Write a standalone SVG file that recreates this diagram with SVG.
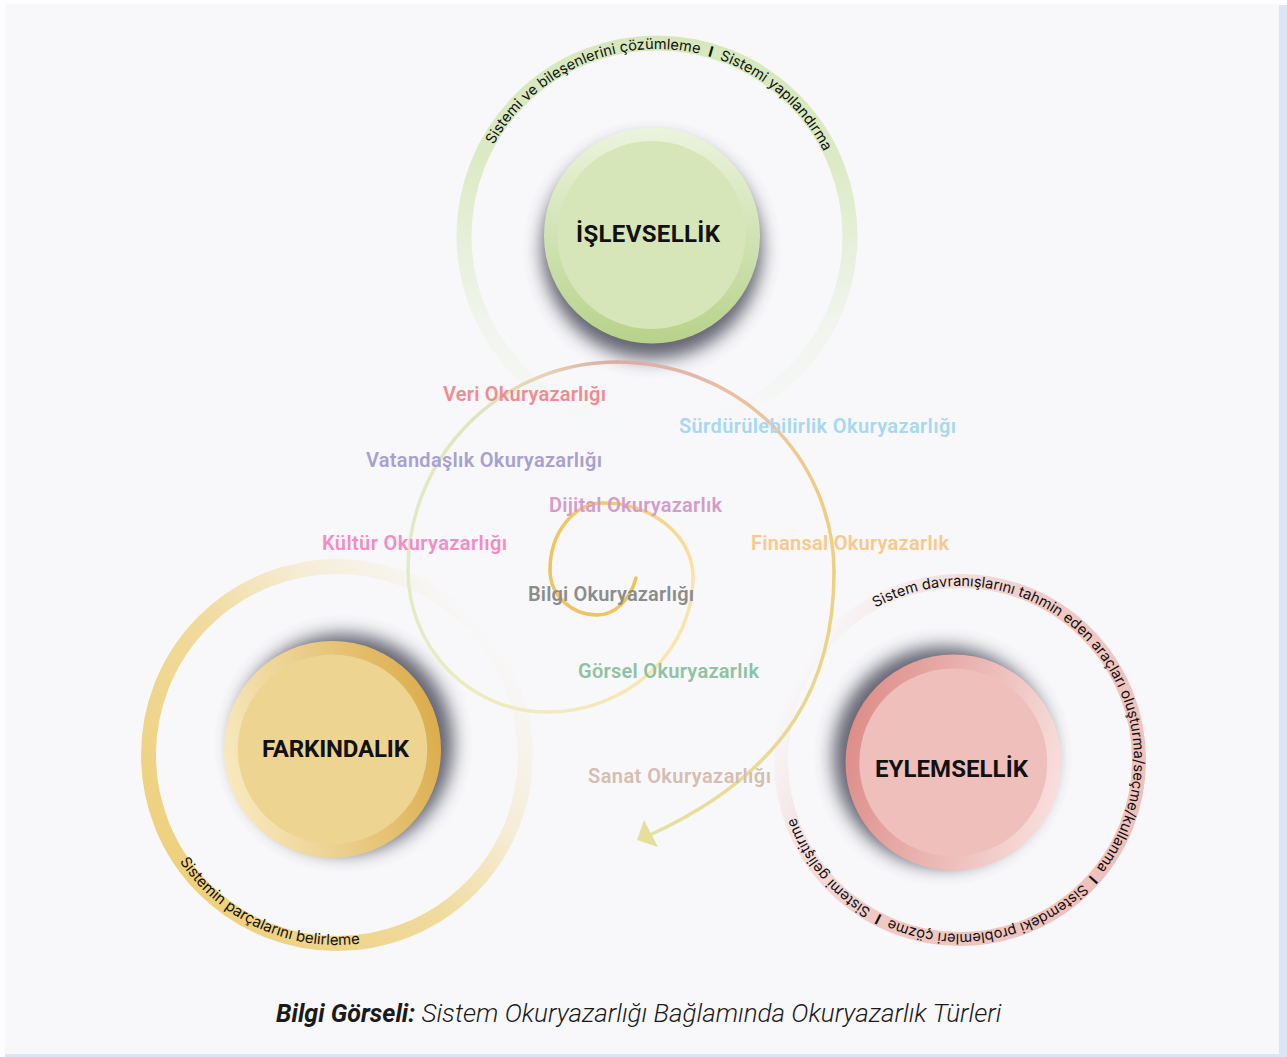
<svg xmlns="http://www.w3.org/2000/svg" width="1287" height="1057" viewBox="0 0 1287 1057">
<defs>
<style>
.lbl{font-family:Roboto,"Liberation Sans",sans-serif;font-weight:600;font-size:20px}
.title{font-family:Roboto,"Liberation Sans",sans-serif;font-weight:700;font-size:24px;fill:#111;text-anchor:middle}
.rt{font-family:Inter,"Liberation Sans",sans-serif;font-size:14.6px;fill:#111}
.sep{font-weight:700}
.sp{fill:none;stroke-width:3.5;stroke-linecap:round}
.ring{fill:none}
.shadow{fill:#4a4a5a;opacity:0.85;filter:url(#shadowBlur)}
.cap{font-family:Roboto,"Liberation Sans",sans-serif;font-size:25px;font-style:italic;fill:#1a1a1a}
</style>
<filter id="shadowBlur" x="-50%" y="-50%" width="200%" height="200%"><feGaussianBlur stdDeviation="9"/></filter>
<linearGradient id="rimTop" x1="0" y1="0" x2="0" y2="1"><stop offset="0" stop-color="#ebf4de"/><stop offset="1" stop-color="#b7d28a"/></linearGradient>
<linearGradient id="rimLeft" x1="0" y1="0.62" x2="1" y2="0.38"><stop offset="0" stop-color="#f8eac0"/><stop offset="1" stop-color="#dbac4a"/></linearGradient>
<linearGradient id="rimRight" x1="1" y1="0.62" x2="0" y2="0.38"><stop offset="0" stop-color="#f8e0dd"/><stop offset="1" stop-color="#dd8d88"/></linearGradient>
<linearGradient id="ringTopG" gradientUnits="userSpaceOnUse" x1="657" y1="36" x2="657" y2="436"><stop offset="0" stop-color="#d6e8bb"/><stop offset="0.3" stop-color="#d6e8bb" stop-opacity="0.85"/><stop offset="0.5" stop-color="#d6e8bb" stop-opacity="0.55"/><stop offset="0.72" stop-color="#d6e8bb" stop-opacity="0.2"/><stop offset="1" stop-color="#d6e8bb" stop-opacity="0"/></linearGradient>
<linearGradient id="ringLeftG" gradientUnits="userSpaceOnUse" x1="184" y1="877" x2="490" y2="633"><stop offset="0" stop-color="#eed17e"/><stop offset="0.45" stop-color="#eed17e" stop-opacity="0.75"/><stop offset="0.72" stop-color="#eed17e" stop-opacity="0.3"/><stop offset="1" stop-color="#eed17e" stop-opacity="0"/></linearGradient>
<linearGradient id="ringRightG" gradientUnits="userSpaceOnUse" x1="1124" y1="847" x2="796" y2="673"><stop offset="0" stop-color="#efc1bc"/><stop offset="0.5" stop-color="#efc1bc" stop-opacity="0.85"/><stop offset="0.75" stop-color="#efc1bc" stop-opacity="0.45"/><stop offset="1" stop-color="#efc1bc" stop-opacity="0"/></linearGradient>
<linearGradient id="g1" gradientUnits="userSpaceOnUse" x1="636" y1="578" x2="597" y2="615"><stop offset="0" stop-color="#efc25a"/><stop offset="1" stop-color="#efc35e"/></linearGradient>
<linearGradient id="g2" gradientUnits="userSpaceOnUse" x1="597" y1="615" x2="550" y2="570"><stop offset="0" stop-color="#efc35e"/><stop offset="1" stop-color="#eec462"/></linearGradient>
<linearGradient id="g3" gradientUnits="userSpaceOnUse" x1="550" y1="570" x2="603" y2="503"><stop offset="0" stop-color="#eec462"/><stop offset="1" stop-color="#f2ca6c"/></linearGradient>
<linearGradient id="g4" gradientUnits="userSpaceOnUse" x1="603" y1="503" x2="693" y2="577"><stop offset="0" stop-color="#f2ca6c"/><stop offset="1" stop-color="#fde2a6"/></linearGradient>
<linearGradient id="g5" gradientUnits="userSpaceOnUse" x1="693" y1="577" x2="547" y2="712"><stop offset="0" stop-color="#fde2a6"/><stop offset="1" stop-color="#f1ebbd"/></linearGradient>
<linearGradient id="g6" gradientUnits="userSpaceOnUse" x1="547" y1="712" x2="408" y2="570"><stop offset="0" stop-color="#f1ebbd"/><stop offset="1" stop-color="#e0ecc6"/></linearGradient>
<linearGradient id="g7" gradientUnits="userSpaceOnUse" x1="408" y1="570" x2="617" y2="362"><stop offset="0" stop-color="#e0ecc6"/><stop offset="0.55" stop-color="#dfe6bf"/><stop offset="0.8" stop-color="#e6d2b4"/><stop offset="1" stop-color="#d9aca4"/></linearGradient>
<linearGradient id="g8" gradientUnits="userSpaceOnUse" x1="617" y1="362" x2="834" y2="572"><stop offset="0" stop-color="#d9aca4"/><stop offset="0.35" stop-color="#e9c0a6"/><stop offset="0.7" stop-color="#efcb8c"/><stop offset="1" stop-color="#edd07e"/></linearGradient>
<linearGradient id="g9" gradientUnits="userSpaceOnUse" x1="834" y1="572" x2="652" y2="834"><stop offset="0" stop-color="#edd07e"/><stop offset="1" stop-color="#e6e0a2"/></linearGradient>
<path id="tpTop" d="M470,236 A187,187 0 1 1 844,236 A187,187 0 1 1 470,236"/>
<path id="tpLeft" d="M147,755 A190,190 0 1 0 527,755 A190,190 0 1 0 147,755"/>
<path id="tpRight" d="M786,760 A174,174 0 1 1 1134,760 A174,174 0 1 1 786,760"/>
</defs>

<rect width="1287" height="1057" fill="#fdfdfe"/>
<rect x="1279" y="5" width="8" height="1052" fill="#dce5f5"/>
<rect x="5" y="1054" width="1282" height="3" fill="#dce5f5"/>
<rect x="5" y="4" width="1274" height="1050" fill="#f8f8fa"/>

<g id="node-islevsellik">
<circle class="ring" cx="657" cy="236" r="193" stroke="url(#ringTopG)" stroke-width="15"/>
<text class="rt"><textPath href="#tpTop" startOffset="95">Sistemi ve bileşenlerini çözümleme&#160;&#160;<tspan class="sep">I</tspan>&#160;&#160;Sistemi yapılandırma</textPath></text>
<circle class="shadow" cx="652" cy="249" r="110"/>
<circle cx="652" cy="235.5" r="108" fill="url(#rimTop)"/>
<circle cx="651.5" cy="235" r="94" fill="#d7e6b8"/>
<text class="title" x="648" y="242" textLength="144">İŞLEVSELLİK</text>
</g>

<g id="node-farkindalik">
<circle class="ring" cx="337" cy="755" r="188.5" stroke="url(#ringLeftG)" stroke-width="15"/>
<text class="rt" style="font-size:15px"><textPath href="#tpLeft" startOffset="113">Sistemin parçalarını belirleme</textPath></text>
<circle class="shadow" cx="343.5" cy="743.7" r="110"/>
<circle cx="332.5" cy="749.5" r="108.5" fill="url(#rimLeft)"/>
<circle cx="332.5" cy="749.3" r="94.7" fill="#edd491"/>
<text class="title" x="335.5" y="757" textLength="147">FARKINDALIK</text>
</g>

<g id="node-eylemsellik">
<circle class="ring" cx="960" cy="760" r="179" stroke="url(#ringRightG)" stroke-width="14"/>
<text class="rt"><textPath href="#tpRight" startOffset="185">Sistem davranışlarını tahmin eden araçları oluşturma/seçme/kullanma&#160;&#160;<tspan class="sep">I</tspan>&#160;&#160;Sistemdeki problemleri çözme&#160;&#160;<tspan class="sep">I</tspan>&#160;&#160;Sistemi geliştirme</textPath></text>
<circle class="shadow" cx="943" cy="756.5" r="110"/>
<circle cx="953.5" cy="762.5" r="108" fill="url(#rimRight)"/>
<circle cx="953.3" cy="762.5" r="94" fill="#efc0bb"/>
<text class="title" x="951.5" y="777" textLength="153">EYLEMSELLİK</text>
</g>

<g id="connectors">
<path class="sp" stroke="url(#g1)" d="M636,578 C630,600 615,615 597,615"/>
<path class="sp" stroke="url(#g2)" d="M597,615 A47,45 0 0 1 550,570"/>
<path class="sp" stroke="url(#g3)" d="M550,570 A53,67 0 0 1 603,503"/>
<path class="sp" stroke="url(#g4)" d="M603,503 A90,74 0 0 1 693,577"/>
<path class="sp" stroke="url(#g5)" d="M693,577 A146,135 0 0 1 547,712"/>
<path class="sp" stroke="url(#g6)" d="M547,712 A139,142 0 0 1 408,570"/>
<path class="sp" stroke="url(#g7)" d="M408,570 A209,208 0 0 1 617,362"/>
<path class="sp" stroke="url(#g8)" d="M617,362 A217,210 0 0 1 834,572"/>
<path class="sp" stroke="url(#g9)" d="M834,572 C834,680 790,770 652,834"/>
<polygon points="637,840 644,820 658,847" fill="#e4df9f"/>
</g>

<g id="labels">
<text class="lbl" x="443" y="401" fill="#f28b90" textLength="163">Veri Okuryazarlığı</text>
<text class="lbl" x="679" y="433" fill="#a6d8f2" textLength="277">Sürdürülebilirlik Okuryazarlığı</text>
<text class="lbl" x="366" y="467" fill="#a7a0d0" textLength="236">Vatandaşlık Okuryazarlığı</text>
<text class="lbl" x="549" y="512" fill="#d49ccb" textLength="173">Dijital Okuryazarlık</text>
<text class="lbl" x="322" y="550" fill="#f38bc4" textLength="185">Kültür Okuryazarlığı</text>
<text class="lbl" x="751" y="550" fill="#f7c98b" textLength="198">Finansal Okuryazarlık</text>
<text class="lbl" x="528" y="601" fill="#8c8c8c" textLength="166">Bilgi Okuryazarlığı</text>
<text class="lbl" x="578" y="678" fill="#8fc2a2" textLength="181">Görsel Okuryazarlık</text>
<text class="lbl" x="588" y="783" fill="#d5bdb1" textLength="183">Sanat Okuryazarlığı</text>
</g>

<g id="caption">
<text class="cap" x="276" y="1022"><tspan font-weight="700">Bilgi Görseli:</tspan><tspan font-weight="300" font-size="26"> Sistem Okuryazarlığı Bağlamında Okuryazarlık Türleri</tspan></text>
</g>
</svg>
